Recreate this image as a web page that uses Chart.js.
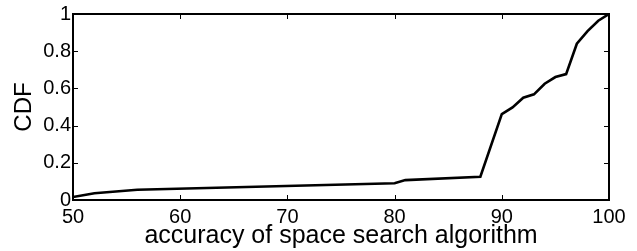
<!DOCTYPE html>
<html>
<head>
<meta charset="utf-8">
<script src="https://cdn.jsdelivr.net/npm/chart.js@4/dist/chart.umd.min.js"></script>
<style>
html,body{margin:0;padding:0;background:#fff;}
#wrap{width:637px;height:251px;position:relative;}
</style>
</head>
<body>
<div id="wrap"><canvas id="c" width="637" height="251"></canvas></div>
<script>
// Data
const accuracy = [50, 52, 56, 80, 81, 88, 90, 91, 92, 93, 94, 95, 96, 97, 98, 99, 100];
const cdf = [0.016, 0.036, 0.055, 0.09, 0.107, 0.125, 0.462, 0.498, 0.55, 0.568, 0.625, 0.661, 0.677, 0.84, 0.908, 0.964, 1.0];
const xTickValues = [50, 60, 70, 80, 90, 100];
const xTickLabels = ['50', '60', '70', '80', '90', '100'];
const yTickValues = [0, 0.2, 0.4, 0.6, 0.8, 1];
const yTickLabels = ['0', '0.2', '0.4', '0.6', '0.8', '1'];
const xTitle = 'accuracy of space search algorithm';
const yTitle = 'CDF';

const FONT = '"Liberation Sans", Arial, Helvetica, sans-serif';

const boxPlugin = {
  id: 'boxTicks',
  afterDatasetsDraw(chart) {
    const {ctx, chartArea: a, scales: {x, y}} = chart;
    ctx.save();
    ctx.strokeStyle = '#000';
    ctx.lineWidth = 1;
    const tl = 5;
    ctx.beginPath();
    xTickValues.forEach(v => {
      const px = Math.round(x.getPixelForValue(v)) + 0.5;
      ctx.moveTo(px, a.bottom); ctx.lineTo(px, a.bottom - tl);
      ctx.moveTo(px, a.top); ctx.lineTo(px, a.top + tl);
    });
    yTickValues.forEach(v => {
      const py = Math.round(y.getPixelForValue(v)) + 0.5;
      ctx.moveTo(a.left, py); ctx.lineTo(a.left + tl, py);
      ctx.moveTo(a.right, py); ctx.lineTo(a.right - tl, py);
    });
    ctx.stroke();
    ctx.lineWidth = 2;
    ctx.strokeRect(a.left, a.top, a.right - a.left, a.bottom - a.top);
    ctx.restore();
  }
};

new Chart(document.getElementById('c'), {
  type: 'scatter',
  data: {
    datasets: [{
      data: accuracy.map((v, i) => ({x: v, y: cdf[i]})),
      showLine: true,
      borderColor: '#000',
      backgroundColor: '#000',
      borderWidth: 2.6,
      pointRadius: 0,
      tension: 0
    }]
  },
  options: {
    responsive: false,
    animation: false,
    devicePixelRatio: 1,
    layout: {padding: {left: 0, right: 28, top: 14, bottom: 0}},
    plugins: {legend: {display: false}, tooltip: {enabled: false}},
    scales: {
      x: {
        type: 'linear', min: 50, max: 100,
        afterBuildTicks(s) { s.ticks = xTickValues.map(v => ({value: v})); },
        afterFit(s) { s.height = 51; },
        grid: {display: true, drawOnChartArea: false, drawTicks: false},
        border: {display: false},
        ticks: {
          color: '#000', padding: 5, maxRotation: 0, autoSkip: false,
          font: {family: FONT, size: 20},
          callback: (v) => { const i = xTickValues.indexOf(v); return i >= 0 ? xTickLabels[i] : ''; }
        },
        title: {display: true, text: xTitle, color: '#000', font: {family: FONT, size: 25}, padding: {top: 0, bottom: 0}}
      },
      y: {
        type: 'linear', min: 0, max: 1,
        afterBuildTicks(s) { s.ticks = yTickValues.map(v => ({value: v})); },
        afterFit(s) { s.width = 73; },
        grid: {display: true, drawOnChartArea: false, drawTicks: false},
        border: {display: false},
        ticks: {
          color: '#000', padding: 2, autoSkip: false,
          font: {family: FONT, size: 20},
          callback: (v) => { const i = yTickValues.indexOf(v); return i >= 0 ? yTickLabels[i] : ''; }
        },
        title: {display: true, text: yTitle, color: '#000', font: {family: FONT, size: 24}, padding: {top: 10, bottom: 10}}
      }
    }
  },
  plugins: [boxPlugin]
});
</script>
</body>
</html>
